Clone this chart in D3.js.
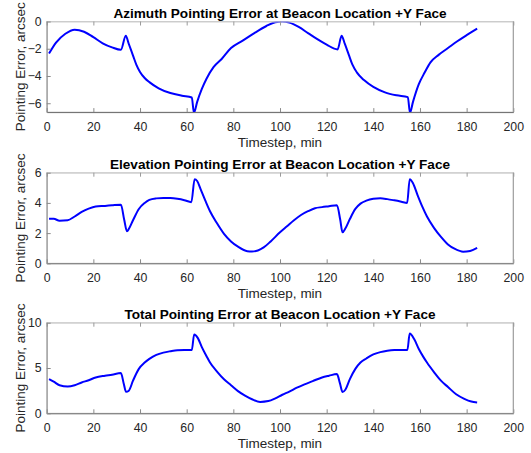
<!DOCTYPE html>
<html><head><meta charset="utf-8">
<script src="https://cdn.jsdelivr.net/npm/d3@7"></script>
<style>body{margin:0;background:#fff}</style>
</head><body>
<svg id="c" width="531" height="453"></svg>
<script>
const xTicks = [0, 20, 40, 60, 80, 100, 120, 140, 160, 180, 200];

const azTime = [1, 4, 8, 12, 16, 20, 24, 28, 31.8, 33.9, 35.2, 37, 38.5, 40, 42, 44, 48, 53, 58, 62.2, 63.1, 64.5, 66.5, 68.5, 71.5, 75, 79, 84, 89, 94, 98, 101, 104, 108, 112, 116, 120, 124.7, 126.4, 127.8, 129.5, 131, 133, 136, 140, 145, 150, 154.8, 155.7, 157, 159.5, 162, 164.5, 168, 172, 176, 180, 184.5];
const azVal  = [-2.35, -1.55, -0.9, -0.6, -0.75, -1.15, -1.6, -1.9, -2.08, -1.05, -1.65, -2.5, -3.2, -3.7, -4.15, -4.45, -4.9, -5.25, -5.45, -5.58, -6.7, -5.9, -4.95, -4.2, -3.35, -2.75, -1.95, -1.4, -0.85, -0.35, -0.05, 0, -0.08, -0.4, -0.85, -1.3, -1.7, -2.05, -1.05, -1.65, -2.45, -3.15, -3.75, -4.3, -4.8, -5.2, -5.42, -5.55, -6.7, -5.9, -4.6, -3.75, -3.0, -2.45, -1.95, -1.45, -1.0, -0.52];

const elTime = [1, 3, 5.5, 9, 12, 15, 18, 21, 25, 28, 31.8, 33.2, 34.4, 35.3, 37, 39.5, 42, 44, 47, 50, 53, 56, 59, 62, 63.4, 64.5, 66, 68, 70, 73, 76, 79, 82, 86, 88, 90.5, 93, 96, 100, 103, 106, 109, 112, 115, 118, 121, 124.4, 125.8, 126.8, 128, 130, 132.3, 134.5, 137, 140, 143, 146, 149, 152, 154.5, 155.6, 157, 159, 161, 163, 166, 169, 172, 175, 178.5, 181.5, 184.5];
const elVal  = [2.95, 2.95, 2.82, 2.85, 3.1, 3.4, 3.62, 3.76, 3.8, 3.84, 3.88, 2.9, 2.12, 2.3, 2.85, 3.6, 4.0, 4.2, 4.3, 4.33, 4.32, 4.27, 4.18, 4.05, 5.56, 5.45, 4.9, 4.15, 3.45, 2.65, 1.95, 1.45, 1.1, 0.8, 0.78, 0.85, 1.05, 1.45, 2.05, 2.45, 2.85, 3.2, 3.45, 3.65, 3.72, 3.78, 3.85, 2.9, 2.05, 2.3, 2.95, 3.6, 3.95, 4.15, 4.27, 4.3, 4.25, 4.17, 4.08, 4.0, 5.56, 5.3, 4.5, 3.75, 3.1, 2.35, 1.75, 1.25, 0.95, 0.77, 0.82, 1.02];

const totTime = [1, 3, 5.5, 9, 12, 15, 18, 21, 25, 28, 31.8, 33.0, 34.0, 35.2, 37, 39.5, 42, 44, 47, 50, 53, 56, 59, 62.2, 63.2, 64.8, 66.5, 68.5, 70, 73, 76, 79, 82, 85, 88, 91.5, 95, 98, 101, 104, 107, 110.5, 114, 118, 121, 124.4, 125.7, 126.8, 128, 130, 132.3, 134.5, 137, 140, 143, 146, 149, 152, 154.6, 155.6, 157.5, 159.5, 161.5, 163, 166, 169, 172, 175.5, 179, 182, 184.5];
const totVal = [3.78, 3.5, 3.1, 2.96, 3.1, 3.4, 3.65, 3.96, 4.15, 4.26, 4.44, 3.3, 2.37, 2.5, 3.6, 4.9, 5.6, 6.0, 6.45, 6.7, 6.85, 6.96, 6.98, 6.98, 8.7, 8.3, 7.3, 6.3, 5.6, 4.6, 3.75, 3.1, 2.45, 1.95, 1.55, 1.26, 1.35, 1.65, 2.05, 2.4, 2.8, 3.2, 3.55, 3.96, 4.15, 4.33, 3.3, 2.35, 2.6, 3.8, 4.9, 5.6, 6.05, 6.5, 6.75, 6.9, 6.98, 7.0, 7.0, 8.8, 8.2, 7.1, 6.2, 5.6, 4.55, 3.6, 2.9, 2.1, 1.6, 1.3, 1.2];

const azTicks = [-6, -4, -2, 0];
const elTicks = [0, 2, 4, 6];
const totTicks = [0, 5, 10];

const panels = [
  {title: "Azimuth Pointing Error at Beacon Location +Y Face", t: azTime, v: azVal, domain: [-6.65, 0], ticks: azTicks, top: 21.5},
  {title: "Elevation Pointing Error at Beacon Location +Y Face", t: elTime, v: elVal, domain: [0, 6], ticks: elTicks, top: 172.7},
  {title: "Total Pointing Error at Beacon Location +Y Face", t: totTime, v: totVal, domain: [0, 10], ticks: totTicks, top: 322.7}
];

const left = 46.7, right = 513.3, h = 90.6;
const font = "'Liberation Sans', Arial, Helvetica, sans-serif";
const svg = d3.select("#c");
const x = d3.scaleLinear().domain([0, 200]).range([left, right]);

panels.forEach((p, i) => {
  const top = p.top, bottom = top + h;
  const y = d3.scaleLinear().domain(p.domain).range([bottom, top]);
  const g = svg.append("g");

  // box
  g.append("rect").attr("x", left).attr("y", top).attr("width", right - left).attr("height", h)
    .attr("fill", "none").attr("stroke", "#c8c8c8").attr("stroke-width", 1);

  // line
  const cid = "clip" + i;
  svg.append("clipPath").attr("id", cid).append("rect")
    .attr("x", left).attr("y", top).attr("width", right - left).attr("height", h);
  const pts = p.t.map((t, k) => [t, p.v[k]]);
  g.append("path").attr("clip-path", `url(#${cid})`)
    .attr("d", d3.line().x(d => x(d[0])).y(d => y(d[1])).curve(d3.curveMonotoneX)(pts))
    .attr("fill", "none").attr("stroke", "#0000ff").attr("stroke-width", 2).attr("stroke-linejoin", "round");

  // bottom axis
  const xa = g.append("g").attr("transform", `translate(0,${bottom})`)
    .call(d3.axisBottom(x).tickValues(xTicks).tickFormat(d3.format("d")).tickSizeInner(-4).tickSizeOuter(0).tickPadding(10.3));
  // top ticks
  const xt = g.append("g").attr("transform", `translate(0,${top})`)
    .call(d3.axisTop(x).tickValues(xTicks).tickFormat("").tickSizeInner(-4).tickSizeOuter(0));
  xt.select(".domain").attr("stroke", "#d0d0d0");
  xt.selectAll(".tick line").attr("stroke", "#9a9a9a");
  // left axis
  const ya = g.append("g").attr("transform", `translate(${left},0)`)
    .call(d3.axisLeft(y).tickValues(p.ticks).tickFormat(d3.format("d")).tickSizeInner(-4).tickSizeOuter(0).tickPadding(5));

  [xa, ya].forEach(a => {
    a.select(".domain").attr("stroke", "#8a8a8a");
    a.selectAll(".tick line").attr("stroke", "#8a8a8a");
    a.selectAll(".tick text").attr("fill", "#262626").style("font-family", font).style("font-size", "12.3px");
  });
  xa.select(".domain").attr("stroke", "#6a6a6a");
  // right spine
  g.append("line").attr("x1", right).attr("x2", right).attr("y1", top).attr("y2", bottom)
    .attr("stroke", "#9a9a9a");

  // title
  g.append("text").attr("x", (left + right) / 2).attr("y", top - 4)
    .attr("text-anchor", "middle").style("font-family", font).style("font-size", "13.6px")
    .style("font-weight", "bold").attr("fill", "#000").text(p.title);
  // x label
  g.append("text").attr("x", (left + right) / 2).attr("y", bottom + 35)
    .attr("text-anchor", "middle").style("font-family", font).style("font-size", "13.5px")
    .attr("fill", "#262626").text("Timestep, min");
  // y label
  g.append("text").attr("transform", `translate(25,${(top + bottom) / 2}) rotate(-90)`)
    .attr("text-anchor", "middle").style("font-family", font).style("font-size", "13.5px")
    .attr("fill", "#262626").text("Pointing Error, arcsec");
});
</script>
</body></html>
